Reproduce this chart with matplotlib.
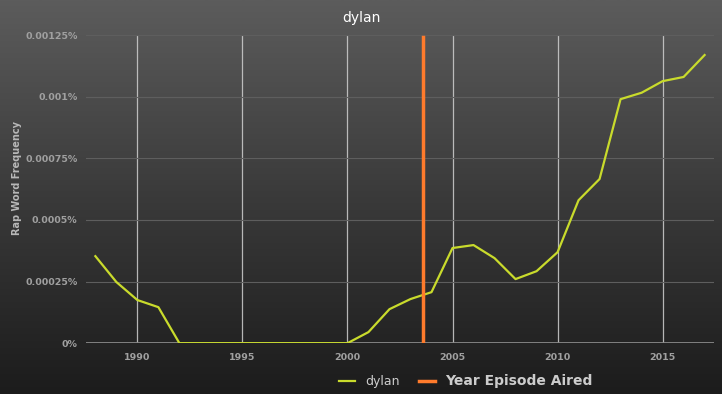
import numpy as np
import matplotlib
matplotlib.use("Agg")
import matplotlib.pyplot as plt
from matplotlib.lines import Line2D
from matplotlib.colors import LinearSegmentedColormap

years = list(range(1988, 2018))
freq = [0.000353, 0.000248, 0.000175, 0.000146,
        0, 0, 0, 0, 0, 0, 0, 0, 0,
        0.000045, 0.000138, 0.000179, 0.000207,
        0.000386, 0.000398, 0.000345, 0.000260, 0.000292, 0.000369,
        0.000580, 0.000666, 0.000990, 0.001016, 0.001063, 0.001080, 0.001169]
episode_year = 2003.6
x_ticks = [1990, 1995, 2000, 2005, 2010, 2015]
y_ticks = [0, 0.00025, 0.0005, 0.00075, 0.001, 0.00125]
y_labels = ["0%", "0.00025%", "0.0005%", "0.00075%", "0.001%", "0.00125%"]

fig = plt.figure(figsize=(7.22, 3.94), dpi=100)

# gradient background
bg = fig.add_axes([0, 0, 1, 1], zorder=-10)
grad = np.linspace(0, 1, 256).reshape(-1, 1)
cmap = LinearSegmentedColormap.from_list("bg", ["#5c5c5c", "#3a3a3a", "#1c1c1c"])
bg.imshow(grad, aspect="auto", cmap=cmap, extent=[0, 1, 0, 1])
bg.axis("off")

ax = fig.add_axes([0.119, 0.129, 0.870, 0.782])
ax.set_facecolor("none")
ax.set_xlim(1987.55, 2017.45)
ax.set_ylim(0, 0.00125)

for x in x_ticks:
    ax.axvline(x, color="#d0d0d0", lw=0.9, alpha=0.85, zorder=1)
for y in y_ticks[1:]:
    ax.axhline(y, color="#5e5e5e", lw=0.8, zorder=1)
ax.axhline(0, color="#8a8a8a", lw=2, zorder=2)

ax.plot(years, freq, color="#c9db2c", lw=1.6, zorder=3)
ax.axvline(episode_year, color="#ff7b2c", lw=2.5, zorder=4, ymax=0.995)

ax.set_xticks(x_ticks)
ax.set_yticks(y_ticks)
ax.set_yticklabels(y_labels)
ax.tick_params(length=0, colors="#a0a0a0", labelsize=6.8)
ax.tick_params(axis="y", pad=6)
ax.tick_params(axis="x", pad=7)
for lab in ax.get_xticklabels() + ax.get_yticklabels():
    lab.set_fontweight("bold")
for s in ax.spines.values():
    s.set_visible(False)

ax.set_ylabel("Rap Word Frequency", color="#b8b8b8", fontsize=7,
              fontweight="bold")
ax.yaxis.set_label_coords(-0.102, 0.536)
fig.text(0.5, 0.955, "dylan", color="white", fontsize=10, ha="center",
         va="center", fontweight="medium")

handles = [Line2D([0], [0], color="#c9db2c", lw=1.6),
           Line2D([0], [0], color="#ff7b2c", lw=2.5)]
leg = fig.legend(handles, ["dylan", "Year Episode Aired"], loc="center",
                 bbox_to_anchor=(0.645, 0.032), ncol=2, frameon=False,
                 handlelength=1.3, columnspacing=1.5, fontsize=9)
texts = leg.get_texts()
texts[0].set_color("#cccccc")
texts[1].set_color("#cccccc")
texts[1].set_fontweight("bold")
texts[1].set_fontsize(10)

fig.savefig("out.png", dpi=100)
